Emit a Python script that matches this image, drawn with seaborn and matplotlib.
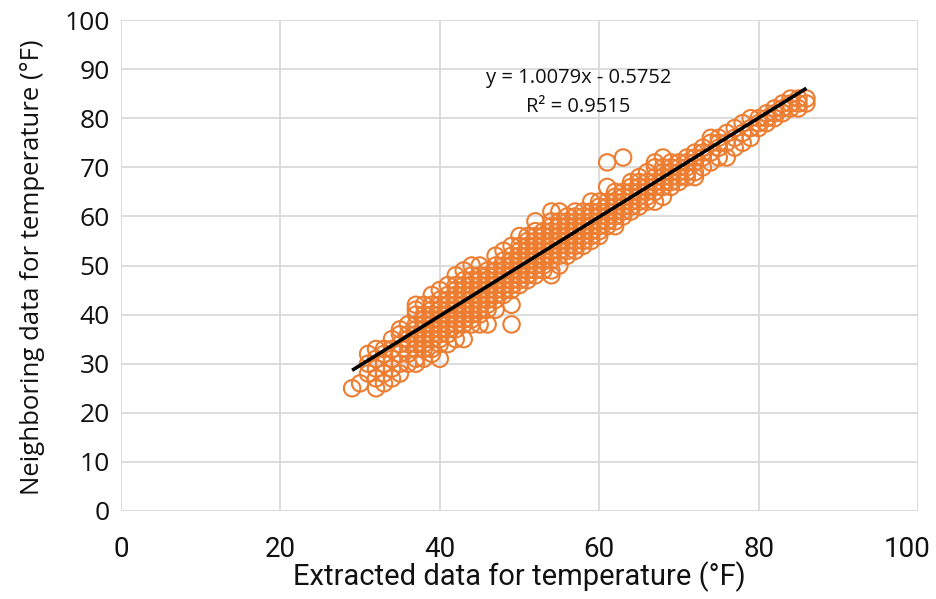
import matplotlib
matplotlib.use("Agg")
import matplotlib.pyplot as plt
import matplotlib.transforms as mtransforms
import seaborn as sns
import pandas as pd

# Extracted temperature (x, °F) and the neighbouring-station readings (y, °F) observed at that x
extracted_levels = list(range(29, 87))
neighboring_by_level = [
    [25],                                              # 29
    [26],                                              # 30
    [28, 30, 32],                                      # 31
    [25, 27, 29, 31, 33],                              # 32
    [26, 28, 30, 32, 33],                              # 33
    [27, 29, 31, 33, 35],                              # 34
    [28, 30, 32, 34, 36, 37],                          # 35
    [30, 32, 34, 35, 36, 38],                          # 36
    [30, 31, 33, 34, 35, 36, 37, 38, 40, 41, 42],      # 37
    [31, 33, 34, 35, 36, 37, 38, 39, 40, 42],          # 38
    [32, 33, 35, 36, 37, 38, 39, 40, 41, 42, 44],      # 39
    [31, 34, 35, 36, 37, 38, 39, 40, 41, 42, 43, 45],  # 40
    [34, 36, 37, 38, 39, 40, 41, 42, 43, 44, 46],      # 41
    [35, 37, 38, 39, 40, 41, 42, 43, 44, 45, 46, 48],  # 42
    [35, 38, 39, 40, 41, 42, 43, 44, 45, 46, 47, 49],  # 43
    [38, 39, 40, 41, 42, 43, 44, 45, 46, 47, 48, 50],  # 44
    [38, 40, 41, 42, 43, 44, 45, 46, 47, 48, 50],      # 45
    [38, 41, 42, 43, 44, 45, 46, 47, 48, 49],          # 46
    [41, 43, 44, 45, 46, 47, 48, 49, 50, 52],          # 47
    [44, 45, 46, 47, 48, 49, 50, 51, 53],              # 48
    [38, 42, 45, 46, 47, 48, 49, 50, 51, 52, 54],      # 49
    [46, 47, 48, 49, 50, 51, 52, 53, 54, 56],          # 50
    [47, 48, 49, 50, 51, 52, 53, 54, 55, 56],          # 51
    [48, 49, 50, 51, 52, 53, 54, 55, 56, 57, 59],      # 52
    [49, 50, 51, 52, 53, 54, 55, 56, 57],              # 53
    [48, 49, 51, 52, 53, 54, 55, 56, 57, 58, 59, 61],  # 54
    [50, 52, 53, 54, 55, 56, 57, 58, 59, 61],          # 55
    [52, 53, 54, 55, 56, 57, 58, 59, 60],              # 56
    [53, 54, 55, 56, 57, 58, 59, 60, 61],              # 57
    [54, 55, 56, 57, 58, 59, 60, 61],                  # 58
    [55, 56, 57, 58, 59, 60, 61, 63],                  # 59
    [56, 57, 58, 59, 60, 61, 62, 63],                  # 60
    [58, 59, 60, 61, 62, 63, 66, 71],                  # 61
    [58, 59, 60, 61, 62, 63, 64, 65],                  # 62
    [60, 61, 62, 63, 64, 65, 72],                      # 63
    [61, 62, 63, 64, 65, 66, 67],                      # 64
    [62, 63, 64, 65, 66, 67, 68],                      # 65
    [63, 64, 65, 66, 67, 69],                          # 66
    [63, 65, 66, 67, 68, 70, 71],                      # 67
    [64, 66, 67, 68, 69, 70, 72],                      # 68
    [66, 67, 68, 69, 70, 71],                          # 69
    [67, 68, 69, 70, 71],                              # 70
    [68, 69, 70, 71, 72],                              # 71
    [68, 69, 71, 72, 73],                              # 72
    [70, 72, 73, 74],                                  # 73
    [71, 73, 75, 76],                                  # 74
    [72, 74, 75, 76],                                  # 75
    [72, 75, 77],                                      # 76
    [74, 76, 78],                                      # 77
    [75, 77, 79],                                      # 78
    [76, 78, 80],                                      # 79
    [78, 79, 80],                                      # 80
    [79, 80, 81],                                      # 81
    [80, 81, 82],                                      # 82
    [81, 82, 83],                                      # 83
    [82, 83, 84],                                      # 84
    [82, 83, 84],                                      # 85
    [83, 84],                                          # 86
]

trend_slope = 1.0079
trend_intercept = -0.5752
r_squared = 0.9515

x_ticks = [0, 20, 40, 60, 80, 100]
y_ticks = [0, 10, 20, 30, 40, 50, 60, 70, 80, 90, 100]
x_label = "Extracted data for temperature (°F)"
y_label = "Neighboring data for temperature (°F)"

rows = [(x, y) for x, ys in zip(extracted_levels, neighboring_by_level) for y in ys]
df = pd.DataFrame(rows, columns=["extracted", "neighboring"])

sns.set_theme(style="white")
plt.rcParams["font.family"] = ["Open Sans", "DejaVu Sans"]

ORANGE = "#ED7D31"
GRID = "#D9D9D9"
NARROW = ["Roboto", "DejaVu Sans"]

fig = plt.figure(figsize=(9.37, 5.99), dpi=100)
ax = fig.add_axes([121 / 937, 1 - 511 / 599, (918 - 121) / 937, (511 - 20) / 599])

sns.scatterplot(data=df, x="extracted", y="neighboring", ax=ax,
                marker="o", s=140, facecolors="none", edgecolor=ORANGE,
                linewidth=1.5, zorder=3, legend=False)
ax.collections[-1].set_facecolor("none")
ax.collections[-1].set_edgecolor(ORANGE)

x0, x1 = df["extracted"].min(), df["extracted"].max()
ax.plot([x0, x1], [trend_slope * x0 + trend_intercept, trend_slope * x1 + trend_intercept],
        color="black", linewidth=2.6, zorder=4, solid_capstyle="butt")

ax.set_xlim(0, 100)
ax.set_ylim(0, 100)
ax.set_xticks(x_ticks)
ax.set_yticks(y_ticks)
ax.grid(True, color=GRID, linewidth=1.3)
ax.set_axisbelow(True)
for sp in ax.spines.values():
    sp.set_visible(False)
ax.tick_params(axis="both", length=0)
ax.tick_params(axis="y", labelsize=19, pad=8, labelcolor="#111111")
ax.tick_params(axis="x", labelsize=20, pad=18, labelcolor="#111111")
xt_labels = ax.get_xticklabels()
for lab in xt_labels:
    lab.set_family(NARROW)
shift = mtransforms.ScaledTranslation(-11 / 100, 0, fig.dpi_scale_trans)
xt_labels[-1].set_transform(xt_labels[-1].get_transform() + shift)

ax.set_xlabel(x_label, fontsize=21, family=NARROW, labelpad=-1, color="#111111")
ax.set_ylabel(y_label, fontsize=18.5, color="#111111")
ax.yaxis.set_label_coords((45 - 121) / 797, 0.497)

eq_text = f"y = {trend_slope:.4f}x - {abs(trend_intercept):.4f}\nR² = {r_squared:.4f}"
ax.text(57.4, 85.3, eq_text, ha="center", va="center", fontsize=14.5,
        linespacing=1.6, color="#111111", zorder=5)

fig.savefig("out.png", dpi=100, facecolor="white")
